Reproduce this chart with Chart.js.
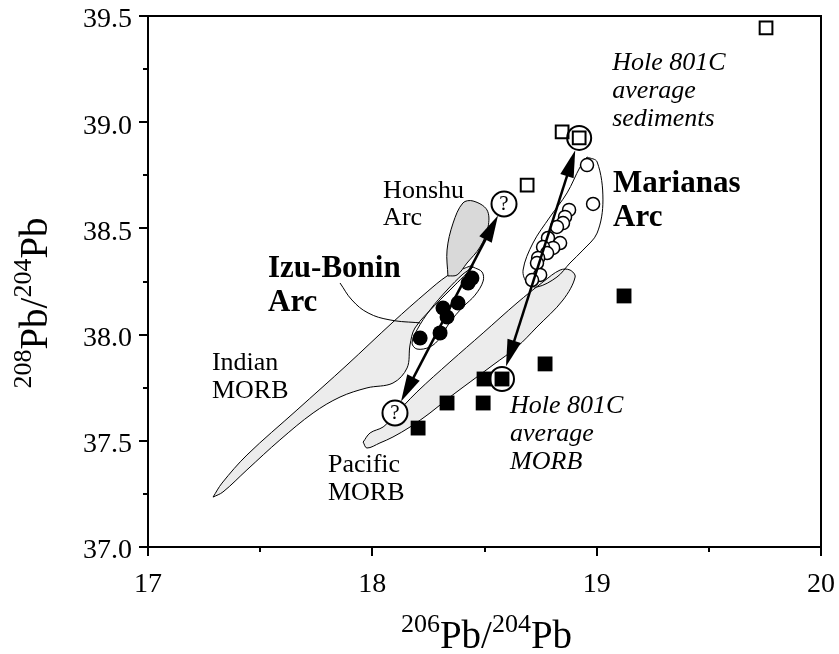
<!DOCTYPE html>
<html>
<head>
<meta charset="utf-8">
<script src="https://cdn.jsdelivr.net/npm/chart.js@4.4.0/dist/chart.umd.min.js"></script>
<style>
  html, body { margin: 0; padding: 0; background: #fff; }
  canvas { display: block; }
  .fontwarm { position: absolute; left: -999px; top: 0; font-family: "Liberation Serif"; }
</style>
</head>
<body>
<canvas id="pbChart" width="839" height="654"></canvas>
<div class="fontwarm">Pb 0123456789 <b>Arc</b> <i>average</i></div>
<script>
// --- Axis ticks ---
const xTicks = [17, 18, 19, 20];
const yTicks = [37.0, 37.5, 38.0, 38.5, 39.0, 39.5];
const xMinor = [17.5, 18.5, 19.5];
const yMinor = [37.25, 37.75, 38.25, 38.75, 39.25];

// --- Samples (206Pb/204Pb, 208Pb/204Pb) ---
const marianasX = [18.957, 18.984, 18.877, 18.859, 18.850, 18.823, 18.783, 18.837, 18.806, 18.761, 18.779, 18.739, 18.734, 18.748, 18.712];
const marianasY = [38.798, 38.615, 38.587, 38.554, 38.525, 38.507, 38.455, 38.431, 38.408, 38.412, 38.384, 38.361, 38.337, 38.281, 38.257];

const izuX = [18.444, 18.427, 18.382, 18.315, 18.333, 18.302, 18.213];
const izuY = [38.266, 38.243, 38.149, 38.125, 38.083, 38.008, 37.984];

const sedX = [19.755, 18.846, 18.922, 18.690];
const sedY = [39.444, 38.954, 38.926, 38.704];

const morbX = [19.122, 18.770, 18.498, 18.578, 18.333, 18.494, 18.204];
const morbY = [38.182, 37.862, 37.791, 37.791, 37.678, 37.678, 37.560];

// circled Hole 801C averages: sediments, MORB
const avgX = [18.922, 18.578];
const avgY = [38.926, 37.791];

// unknown end-members ("?")
const unknownX = [18.587, 18.101];
const unknownY = [38.615, 37.631];

// --- Fields (outlines) ---
const indianX = [17.290, 17.330, 17.441, 17.664, 17.887, 18.092, 18.244, 18.333, 18.391, 18.449, 18.369, 18.280, 18.190, 18.168, 18.155, 18.092, 17.976, 17.856, 17.736, 17.588, 17.441, 17.334, 17.290];
const indianY = [37.235, 37.301, 37.433, 37.645, 37.857, 38.059, 38.201, 38.276, 38.304, 38.323, 38.234, 38.139, 38.031, 37.951, 37.843, 37.772, 37.749, 37.706, 37.631, 37.504, 37.363, 37.259, 37.235];

const honshuX = [18.337, 18.333, 18.360, 18.404, 18.449, 18.511, 18.516, 18.480, 18.422, 18.378, 18.337];
const honshuY = [38.276, 38.398, 38.525, 38.620, 38.629, 38.587, 38.507, 38.412, 38.337, 38.281, 38.276];

const pacificX = [17.959, 17.990, 18.048, 18.092, 18.199, 18.346, 18.494, 18.645, 18.761, 18.837, 18.881, 18.904, 18.850, 18.734, 18.645, 18.538, 18.436, 18.346, 18.257, 18.168, 18.092, 18.034, 17.976, 17.959];
const pacificY = [37.494, 37.537, 37.565, 37.612, 37.730, 37.871, 38.008, 38.149, 38.248, 38.304, 38.304, 38.271, 38.163, 38.036, 37.942, 37.857, 37.777, 37.706, 37.631, 37.565, 37.518, 37.490, 37.466, 37.494];

const izuFieldX = [18.449, 18.489, 18.494, 18.458, 18.404, 18.346, 18.302, 18.257, 18.199, 18.177, 18.199, 18.257, 18.333, 18.404, 18.449];
const izuFieldY = [38.318, 38.295, 38.252, 38.186, 38.130, 38.059, 37.984, 37.942, 37.932, 37.960, 38.022, 38.116, 38.210, 38.285, 38.318];

const marFieldX = [18.957, 19.002, 19.028, 19.002, 18.939, 18.881, 18.823, 18.734, 18.690, 18.672, 18.716, 18.792, 18.868, 18.926, 18.957];
const marFieldY = [38.836, 38.813, 38.634, 38.478, 38.398, 38.337, 38.271, 38.224, 38.243, 38.304, 38.431, 38.554, 38.667, 38.789, 38.836];

// leader line from the Izu-Bonin label to its field
const leaderX = [17.856, 17.909, 17.981, 18.079, 18.213];
const leaderY = [38.243, 38.163, 38.102, 38.069, 38.055];

// --- Annotation text ---
const labelLines = [
    ['Hole 801C', 'average', 'sediments'],
    ['Marianas', 'Arc'],
    ['Honshu', 'Arc'],
    ['Izu-Bonin', 'Arc'],
    ['Indian', 'MORB'],
    ['Pacific', 'MORB'],
    ['Hole 801C', 'average', 'MORB']
];

const SERIF = '"Liberation Serif", "Times New Roman", Times, serif';

// where each label sits (data coords of first baseline) and how it looks
const labelLayout = [
    { x: 19.069, y: 39.246, font: 'italic 26px ' + SERIF, lh: 28 },
    { x: 19.073, y: 38.671, font: 'bold 31px ' + SERIF, lh: 34 },
    { x: 18.048, y: 38.643, font: '26px ' + SERIF, lh: 27 },
    { x: 17.535, y: 38.271, font: 'bold 31px ' + SERIF, lh: 34 },
    { x: 17.285, y: 37.833, font: '26px ' + SERIF, lh: 28 },
    { x: 17.802, y: 37.353, font: '26px ' + SERIF, lh: 28 },
    { x: 18.614, y: 37.631, font: 'italic 26px ' + SERIF, lh: 28 }
];

const pts = (xs, ys) => xs.map((v, i) => ({ x: v, y: ys[i] }));

function field(xs, ys, fill, order) {
    return {
        data: pts(xs, ys),
        showLine: true,
        pointRadius: 0,
        borderColor: '#000',
        borderWidth: 1,
        backgroundColor: fill || 'transparent',
        fill: fill ? 'shape' : false,
        tension: 0.35,
        order: order
    };
}

function drawArrowHead(ctx, x, y, ang) {
    const len = 27, hw = 7;
    const c = Math.cos(ang), s = Math.sin(ang);
    ctx.beginPath();
    ctx.moveTo(x, y);
    ctx.lineTo(x - len * c + hw * s, y - len * s - hw * c);
    ctx.lineTo(x - len * c - hw * s, y - len * s + hw * c);
    ctx.closePath();
    ctx.fill();
}

function drawArrow(ctx, x1, y1, x2, y2, inset) {
    const ang = Math.atan2(y2 - y1, x2 - x1);
    const ux = Math.cos(ang), uy = Math.sin(ang);
    const sx = x1 + ux * inset, sy = y1 + uy * inset;
    const ex = x2 - ux * inset, ey = y2 - uy * inset;
    ctx.beginPath();
    ctx.moveTo(sx + ux * 10, sy + uy * 10);
    ctx.lineTo(ex - ux * 10, ey - uy * 10);
    ctx.stroke();
    drawArrowHead(ctx, ex, ey, ang);
    drawArrowHead(ctx, sx, sy, ang + Math.PI);
}

// "206Pb/204Pb" style text, parts are [text, isSup]
function supWidth(ctx, parts, big, small) {
    let w = 0;
    parts.forEach(p => {
        ctx.font = (p[1] ? small : big) + 'px ' + SERIF;
        w += ctx.measureText(p[0]).width;
    });
    return w;
}
function drawSup(ctx, parts, x, y, big, small) {
    parts.forEach(p => {
        ctx.font = (p[1] ? small : big) + 'px ' + SERIF;
        ctx.fillText(p[0], x, p[1] ? y - big * 0.4 : y);
        x += ctx.measureText(p[0]).width;
    });
}

const overlayPlugin = {
    id: 'overlay',
    afterDatasetsDraw(chart) {
        const ctx = chart.ctx;
        const { x, y } = chart.scales;
        ctx.save();
        ctx.fillStyle = '#000';
        ctx.strokeStyle = '#000';
        ctx.lineWidth = 2.5;

        // mixing arrows between end-members
        drawArrow(ctx,
            x.getPixelForValue(unknownX[1]), y.getPixelForValue(unknownY[1]),
            x.getPixelForValue(unknownX[0]), y.getPixelForValue(unknownY[0]), 13);
        drawArrow(ctx,
            x.getPixelForValue(avgX[0]), y.getPixelForValue(avgY[0]),
            x.getPixelForValue(avgX[1]), y.getPixelForValue(avgY[1]), 13);

        // question marks
        ctx.font = '21px ' + SERIF;
        ctx.textAlign = 'center';
        ctx.textBaseline = 'middle';
        unknownX.forEach((v, i) => {
            ctx.fillText('?', x.getPixelForValue(v), y.getPixelForValue(unknownY[i]) + 1);
        });

        // labels
        ctx.textAlign = 'left';
        ctx.textBaseline = 'alphabetic';
        labelLines.forEach((lines, i) => {
            const L = labelLayout[i];
            ctx.font = L.font;
            const px = x.getPixelForValue(L.x);
            const py = y.getPixelForValue(L.y);
            lines.forEach((t, j) => ctx.fillText(t, px, py + j * L.lh));
        });
        ctx.restore();
    },
    afterDraw(chart) {
        const ctx = chart.ctx;
        const a = chart.chartArea;
        const { x, y } = chart.scales;
        ctx.save();
        ctx.strokeStyle = '#000';
        ctx.fillStyle = '#000';
        ctx.lineWidth = 2;

        // top and right frame
        ctx.beginPath();
        ctx.moveTo(a.left, a.top);
        ctx.lineTo(a.right, a.top);
        ctx.lineTo(a.right, a.bottom);
        ctx.stroke();

        // minor ticks
        ctx.beginPath();
        xMinor.forEach(v => {
            const px = Math.round(x.getPixelForValue(v));
            ctx.moveTo(px, a.bottom);
            ctx.lineTo(px, a.bottom + 5);
        });
        yMinor.forEach(v => {
            const py = Math.round(y.getPixelForValue(v));
            ctx.moveTo(a.left, py);
            ctx.lineTo(a.left - 5, py);
        });
        ctx.stroke();

        // axis titles
        const big = 39, small = 26;
        ctx.textBaseline = 'alphabetic';
        ctx.textAlign = 'left';
        const xt = [['206', true], ['Pb', false], ['/', false], ['204', true], ['Pb', false]];
        const wx = supWidth(ctx, xt, big, small);
        drawSup(ctx, xt, (a.left + a.right) / 2 - wx / 2 + 2, 648, big, small);

        const yt = [['208', true], ['Pb', false], ['/', false], ['204', true], ['Pb', false]];
        const wy = supWidth(ctx, yt, big, small);
        ctx.translate(47, 303);
        ctx.rotate(-Math.PI / 2);
        drawSup(ctx, yt, -wy / 2, 0, big, small);
        ctx.restore();
    }
};

const tickFont = { family: SERIF, size: 28 };

function buildChart() {
    new Chart(document.getElementById('pbChart'), {
        type: 'scatter',
        data: {
            datasets: [
                field(indianX, indianY, '#ececec', 20),
                field(pacificX, pacificY, '#ececec', 20),
                field(honshuX, honshuY, '#d9d9d9', 19),
                field(izuFieldX, izuFieldY, null, 18),
                field(marFieldX, marFieldY, null, 18),
                {
                    data: pts(leaderX, leaderY),
                    showLine: true, pointRadius: 0, borderColor: '#000', borderWidth: 1,
                    fill: false, tension: 0.4, order: 18
                },
                {   // Hole 801C MORB
                    data: pts(morbX, morbY),
                    pointStyle: 'rect', pointRadius: 10.5, backgroundColor: '#000',
                    borderColor: '#000', borderWidth: 0, order: 10
                },
                {   // Hole 801C sediments
                    data: pts(sedX, sedY),
                    pointStyle: 'rect', pointRadius: 9, backgroundColor: '#fff',
                    borderColor: '#000', borderWidth: 2, order: 10
                },
                {   // Marianas arc
                    data: pts(marianasX, marianasY),
                    pointStyle: 'circle', pointRadius: 6.5, backgroundColor: '#fff',
                    borderColor: '#000', borderWidth: 1.5, order: 9
                },
                {   // Izu-Bonin arc
                    data: pts(izuX, izuY),
                    pointStyle: 'circle', pointRadius: 7.5, backgroundColor: '#000',
                    borderColor: '#000', borderWidth: 0, order: 9
                },
                {   // circled averages
                    data: pts(avgX, avgY),
                    pointStyle: 'circle', pointRadius: 12, backgroundColor: 'transparent',
                    borderColor: '#000', borderWidth: 2, order: 5
                },
                {   // unknown end-members
                    data: pts(unknownX, unknownY),
                    pointStyle: 'circle', pointRadius: 12.5, backgroundColor: '#fff',
                    borderColor: '#000', borderWidth: 2, order: 5
                }
            ]
        },
        options: {
            responsive: false,
            animation: false,
            events: [],
            layout: { padding: { top: 16, right: 18, left: 0, bottom: 0 } },
            plugins: {
                legend: { display: false },
                tooltip: { enabled: false }
            },
            scales: {
                x: {
                    type: 'linear',
                    min: 17, max: 20,
                    afterBuildTicks: s => { s.ticks = xTicks.map(v => ({ value: v })); },
                    afterFit: s => { s.height = 107; s.paddingLeft = 0; s.paddingRight = 0; },
                    ticks: { color: '#000', font: tickFont, padding: 12, callback: v => String(v) },
                    grid: { drawOnChartArea: false, drawTicks: true, tickLength: 9, color: '#000', lineWidth: 2 },
                    border: { display: true, color: '#000', width: 2 }
                },
                y: {
                    type: 'linear',
                    min: 37, max: 39.5,
                    afterBuildTicks: s => { s.ticks = yTicks.map(v => ({ value: v })); },
                    afterFit: s => { s.width = 148; s.paddingTop = 0; s.paddingBottom = 0; },
                    ticks: { color: '#000', font: tickFont, padding: 7, labelOffset: 4, callback: v => v.toFixed(1) },
                    grid: { drawOnChartArea: false, drawTicks: true, tickLength: 9, color: '#000', lineWidth: 2 },
                    border: { display: true, color: '#000', width: 2 }
                }
            }
        },
        plugins: [overlayPlugin]
    });
}

Promise.all([
    document.fonts.load('28px "Liberation Serif"'),
    document.fonts.load('bold 31px "Liberation Serif"'),
    document.fonts.load('italic 26px "Liberation Serif"')
]).then(buildChart, buildChart);
</script>
</body>
</html>
